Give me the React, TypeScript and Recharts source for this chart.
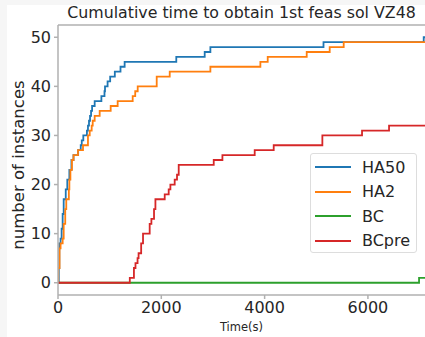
import React from 'react';
import { LineChart, Line, XAxis, YAxis, ReferenceLine } from 'recharts';

const ha50Times = [0, 15, 25, 50, 70, 90, 110, 150, 180, 220, 260, 300, 390, 440, 460, 490, 560, 580, 600, 620, 640, 660, 710, 840, 900, 910, 960, 1010, 1100, 1210, 1290, 2290, 2840, 2950, 5140, 7080, 7105];
const ha50Counts = [0, 3, 8, 9, 11, 14, 17, 19, 21, 23, 25, 26, 27, 28, 29, 30, 31, 32, 33, 34, 35, 36, 37, 38, 39, 40, 41, 42, 43, 44, 45, 46, 47, 48, 49, 50, 50];

const ha2Times = [0, 5, 30, 50, 90, 110, 140, 160, 210, 220, 240, 270, 300, 387, 484, 580, 614, 652, 672, 710, 807, 1020, 1155, 1446, 1495, 1543, 1911, 2163, 2950, 3918, 4060, 4815, 5260, 5531, 7105];
const ha2Counts = [0, 3, 7, 8, 9, 12, 15, 17, 19, 21, 23, 25, 26, 27, 28, 30, 31, 32, 33, 34, 35, 36, 37, 38, 39, 40, 42, 43, 44, 45, 46, 47, 48, 49, 49];

const bcTimes = [0, 6990, 7105];
const bcCounts = [0, 1, 1];

const bcpreTimes = [0, 1390, 1470, 1500, 1540, 1560, 1610, 1646, 1775, 1808, 1859, 1886, 2066, 2143, 2176, 2259, 2304, 2337, 3015, 3183, 3808, 4176, 5118, 5886, 6409, 7105];
const bcpreCounts = [0, 1, 3, 4, 5, 6, 8, 10, 12, 13, 15, 17, 18, 19, 20, 21, 22, 24, 25, 26, 27, 28, 30, 31, 32, 32];

const xTicks = [0, 2000, 4000, 6000];
const yTicks = [0, 10, 20, 30, 40, 50];

const seriesNames = ['HA50', 'HA2', 'BC', 'BCpre'];
const seriesColors = ['#1f77b4', '#ff7f0e', '#2ca02c', '#d62728'];

const toData = (times: number[], counts: number[]) => times.map((t, i) => ({ t, n: counts[i] }));

const seriesData = [
  toData(ha50Times, ha50Counts),
  toData(ha2Times, ha2Counts),
  toData(bcTimes, bcCounts),
  toData(bcpreTimes, bcpreCounts),
];

const FONT = '"DejaVu Sans", sans-serif';
const AXIS = '#b0b0b0';

export default function App() {
  return (
    <div style={{ position: 'absolute', left: 0, top: 0, width: 425, height: 337, background: '#f6f6f6', overflow: 'hidden' }}>
      <div style={{ position: 'absolute', left: 7, top: 5, width: 418, height: 332, background: '#ffffff' }} />
      <div
        style={{
          position: 'absolute',
          left: 58,
          width: 367,
          top: 3,
          textAlign: 'center',
          fontFamily: FONT,
          fontSize: 15.8,
          lineHeight: '19px',
          color: '#262626',
          whiteSpace: 'nowrap',
        }}
      >
        Cumulative time to obtain 1st feas sol VZ48
      </div>
      <div style={{ position: 'absolute', left: 0, top: 0 }}>
        <LineChart width={425} height={337} margin={{ top: 25, right: 0, bottom: 0, left: 0 }}>
          <XAxis
            type="number"
            dataKey="t"
            domain={[0, 7105]}
            ticks={xTicks}
            allowDataOverflow
            height={42}
            stroke={AXIS}
            strokeWidth={1.5}
            tickSize={4}
            tickMargin={3}
            tick={{ fill: '#262626', fontSize: 16, fontFamily: FONT }}
            label={{ value: 'Time(s)', position: 'insideBottom', offset: 6, fill: '#262626', fontSize: 11.5, fontFamily: FONT }}
          />
          <YAxis
            type="number"
            domain={[-2.5, 52.5]}
            ticks={yTicks}
            allowDataOverflow
            width={58}
            stroke={AXIS}
            strokeWidth={1.5}
            tickSize={4}
            tickMargin={3}
            tick={{ fill: '#262626', fontSize: 16, fontFamily: FONT }}
            label={{ value: 'number of instances', angle: -90, position: 'center', dx: -11, dy: 5, fill: '#262626', fontSize: 16.5, fontFamily: FONT }}
          />
          <ReferenceLine y={52.5} stroke={AXIS} strokeWidth={1.5} ifOverflow="visible" />
          {seriesData.map((d, i) => (
            <Line
              key={seriesNames[i]}
              data={d}
              dataKey="n"
              name={seriesNames[i]}
              type="stepAfter"
              stroke={seriesColors[i]}
              strokeWidth={1.8}
              dot={false}
              activeDot={false}
              isAnimationActive={false}
            />
          ))}
        </LineChart>
      </div>
      <div
        style={{
          position: 'absolute',
          left: 310,
          top: 153,
          width: 107,
          height: 100,
          border: '1px solid #dddddd',
          borderRadius: 3,
          background: 'rgba(255,255,255,0.8)',
          boxSizing: 'border-box',
          fontFamily: FONT,
        }}
      >
        {seriesNames.map((name, i) => (
          <div key={name} style={{ position: 'absolute', left: 4, top: 1 + i * 24.5, height: 24, display: 'flex', alignItems: 'center' }}>
            <div style={{ width: 36, height: 2, background: seriesColors[i] }} />
            <span style={{ marginLeft: 11, fontSize: 16, color: '#262626' }}>{name}</span>
          </div>
        ))}
      </div>
    </div>
  );
}
